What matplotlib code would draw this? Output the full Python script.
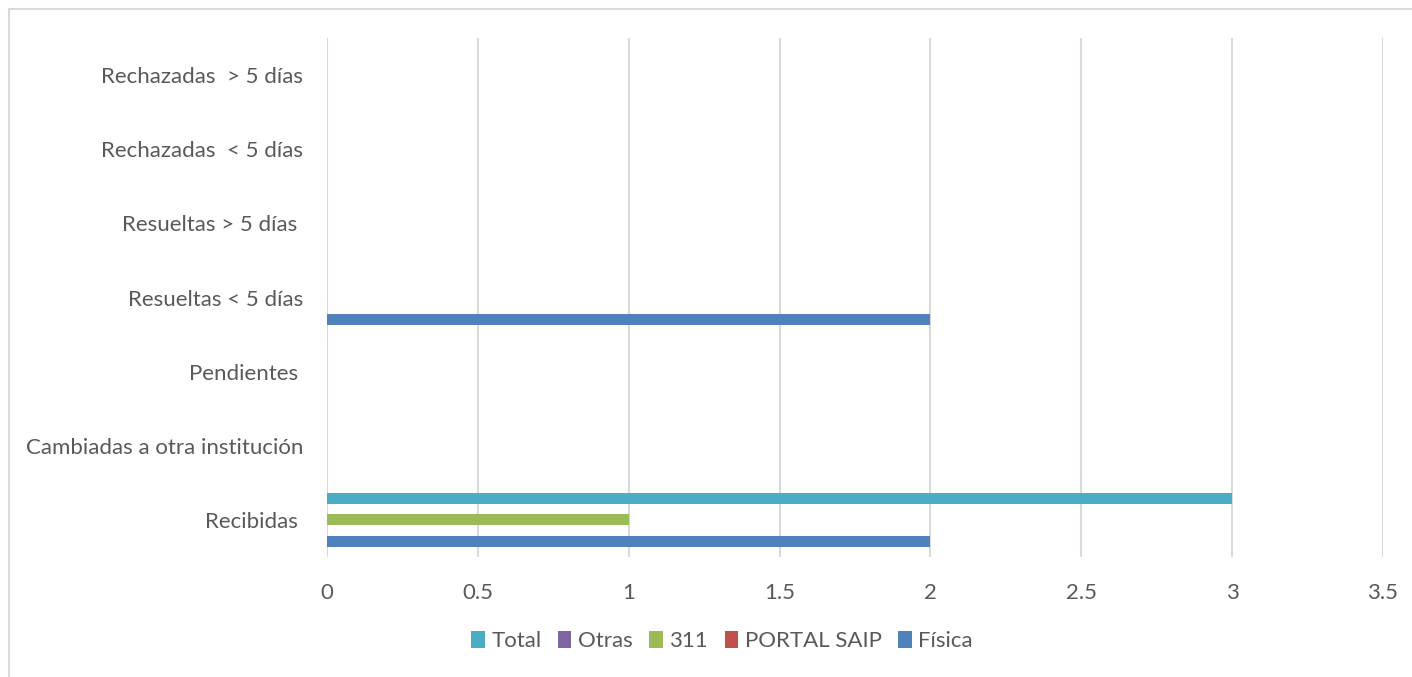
import matplotlib
matplotlib.use('Agg')
import matplotlib.pyplot as plt
import numpy as np

plt.rcParams['font.family'] = ['Lato', 'DejaVu Sans']

# data, bottom category first
categories = ['Recibidas ', 'Cambiadas a otra institución', 'Pendientes ',
              'Resueltas < 5 días', 'Resueltas > 5 días ',
              'Rechazadas  < 5 días', 'Rechazadas  > 5 días']
series_names = ['Física', 'PORTAL SAIP', '311', 'Otras', 'Total']
fisica = [2, 0, 0, 2, 0, 0, 0]
portal_saip = [0, 0, 0, 0, 0, 0, 0]
s311 = [1, 0, 0, 0, 0, 0, 0]
otras = [0, 0, 0, 0, 0, 0, 0]
total = [3, 0, 0, 0, 0, 0, 0]
xticks = [0, 0.5, 1, 1.5, 2, 2.5, 3, 3.5]

colors = ['#4f81bd', '#c0504d', '#9bbb59', '#8064a2', '#4bacc6']
values = [fisica, portal_saip, s311, otras, total]

W, H = 1412, 677
fig = plt.figure(figsize=(W / 100, H / 100), dpi=100)
ax = fig.add_axes([327 / W, 1 - 557 / H, (1383 - 327) / W, (557 - 38) / H])

y = np.arange(len(categories))
slot = 0.146
for i, (name, vals, c) in enumerate(zip(series_names, values, colors)):
    ax.barh(y + (i - 2) * slot, vals, height=slot * 1.02, color=c, label=name,
            zorder=3)

ax.set_ylim(-0.5, len(categories) - 0.5)
ax.set_xlim(0, 3.5)
ax.set_xticks(xticks)
ax.set_xticklabels([f'{v:g}' for v in xticks])
ax.set_yticks(y)
ax.set_yticklabels(categories)
ax.tick_params(length=0, labelsize=16, colors='#595959')
ax.tick_params(axis='x', pad=19)
ax.tick_params(axis='y', pad=17)
ax.grid(axis='x', color='#d9d9d9', linewidth=1.5, zorder=0)
for s in ax.spines.values():
    s.set_visible(False)

handles, labels = ax.get_legend_handles_labels()
fig.legend(handles[::-1], labels[::-1], loc='center', ncol=5,
           bbox_to_anchor=(722 / W, 1 - 641 / H), frameon=False,
           fontsize=16, labelcolor='#595959', handlelength=0.6,
           handleheight=0.85, handletextpad=0.3, columnspacing=0.75)

# light frame of the chart area
fig.add_artist(plt.Rectangle((9 / W, -0.1), 1.2, 1 - 9 / H + 0.1,
                             transform=fig.transFigure, fill=False,
                             edgecolor='#d9d9d9', linewidth=1.5))

fig.savefig('out.png', dpi=100)
